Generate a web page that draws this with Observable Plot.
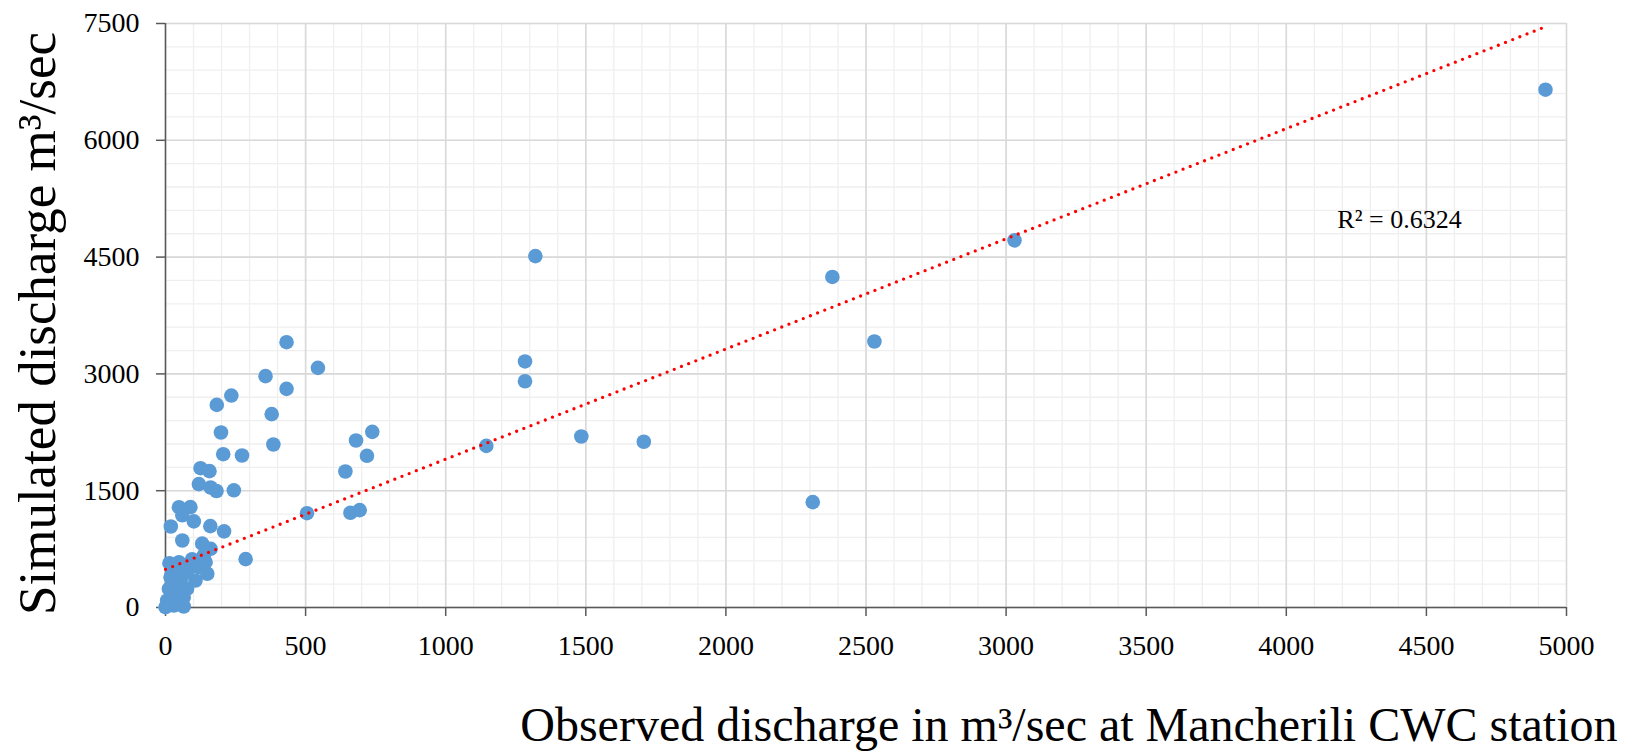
<!DOCTYPE html>
<html>
<head>
<meta charset="utf-8">
<script src="https://cdn.jsdelivr.net/npm/d3@7"></script>
<script src="https://cdn.jsdelivr.net/npm/@observablehq/plot@0.6"></script>
<style>
  html, body { margin: 0; padding: 0; background: #fff; }
  #chart svg { display: block; }
</style>
</head>
<body>
<div id="chart"></div>
<script>
// Observed discharge (x) and simulated discharge (y), m³/sec
const observed = [
  4925, 3030, 2380, 2530, 2310, 1320, 1283, 1283, 1484, 1707, 1145,
  544, 432, 432, 357, 379, 235, 183, 198, 385, 206, 273,
  125, 157, 119, 161, 182, 244, 48, 89, 60, 101, 19, 160, 209,
  60, 131, 161, 286, 505, 642, 680, 738, 719, 660, 693,
  14, 48, 95, 143, 149, 107, 77, 54, 18, 12, 42, 65, 6, 30, 65, 0,
  54, 89, 119, 24, 137, 48, 30, 24, 77
];
const simulated = [
  6650, 4715, 4245, 3416, 1353, 4513, 3160, 2906, 2196, 2129, 2076,
  3078, 3407, 2808, 2971, 2483, 2722, 2602, 2247, 2093, 1969, 1952,
  1789, 1751, 1585, 1541, 1496, 1505, 1288, 1290, 1185, 1106, 1040, 1045, 978,
  860, 820, 754, 621, 1211, 1747, 2145, 2256, 1948, 1216, 1250,
  569, 582, 620, 582, 433, 347, 453, 347, 389, 240, 218, 132, 90, 26, 13, 4,
  518, 539, 518, 475, 668, 300, 154, 304, 240
];
// Linear trendline endpoints (as drawn)
const trendX = [0, 4925];
const trendY = [490, 7459];
const r2Label = ["R² = 0.6324"];
const r2Pos = {x: 4404, y: 4983};

const xTicks = [0, 500, 1000, 1500, 2000, 2500, 3000, 3500, 4000, 4500, 5000];
const yTicks = [0, 1500, 3000, 4500, 6000, 7500];
const xMinor = d3.range(0, 5001, 100);
const yMinor = d3.range(0, 7501, 300);

const xLabel = "Observed discharge in m³/sec at Mancherili CWC station";
const yLabel = "Simulated discharge m³/sec";

const points = observed.map((o, i) => ({obs: o, sim: simulated[i]}));
const trend = trendX.map((x, i) => ({x, y: trendY[i]}));

const font = "'Liberation Serif', 'Times New Roman', serif";

const chart = Plot.plot({
  width: 1635,
  height: 753,
  marginLeft: 165,
  marginRight: 69,
  marginTop: 23,
  marginBottom: 146,
  style: {fontFamily: font, fontSize: "28px", color: "#000", background: "#fff"},
  x: {domain: [0, 5000], label: null},
  y: {domain: [0, 7500], label: null},
  marks: [
    Plot.ruleX(xMinor, {stroke: "#efefef", strokeWidth: 1.3}),
    Plot.ruleY(yMinor, {stroke: "#efefef", strokeWidth: 1.3}),
    Plot.ruleX(xTicks, {stroke: "#d9d9d9", strokeWidth: 1.6}),
    Plot.ruleY(yTicks, {stroke: "#d9d9d9", strokeWidth: 1.6}),
    Plot.ruleX([0], {stroke: "#595959", strokeWidth: 1.5}),
    Plot.ruleY([0], {stroke: "#595959", strokeWidth: 1.5}),
    Plot.axisX({ticks: xTicks, tickSize: 9, tickPadding: 19, stroke: "#595959", strokeWidth: 1.5, fill: "#000", fontSize: 28, fontFamily: font, label: null, tickFormat: d => String(d)}),
    Plot.axisY({ticks: yTicks, tickSize: 9, tickPadding: 17, stroke: "#595959", strokeWidth: 1.5, fill: "#000", fontSize: 28, fontFamily: font, label: null, tickFormat: d => String(d)}),
    Plot.dot(points, {x: "obs", y: "sim", r: 7.3, fill: "#5B9BD5", stroke: "none"}),
    Plot.line(trend, {x: "x", y: "y", stroke: "#ff0000", strokeWidth: 3.3, strokeDasharray: "0 7.7", strokeLinecap: "round"}),
    Plot.text(r2Label, {x: () => r2Pos.x, y: () => r2Pos.y, text: d => d, fontSize: 26, fontFamily: font, fill: "#000", textAnchor: "middle"}),
    Plot.text([yLabel], {text: d => d, frameAnchor: "left", rotate: -90, dx: -127, dy: 8, fontSize: 53, fontFamily: font, fill: "#000", textAnchor: "middle", lineAnchor: "middle"}),
    Plot.text([xLabel], {text: d => d, frameAnchor: "bottom-right", dx: 51, dy: 118, fontSize: 48, fontFamily: font, fill: "#000", textAnchor: "end", lineAnchor: "middle"})
  ]
});
document.getElementById("chart").appendChild(chart);
</script>
</body>
</html>
